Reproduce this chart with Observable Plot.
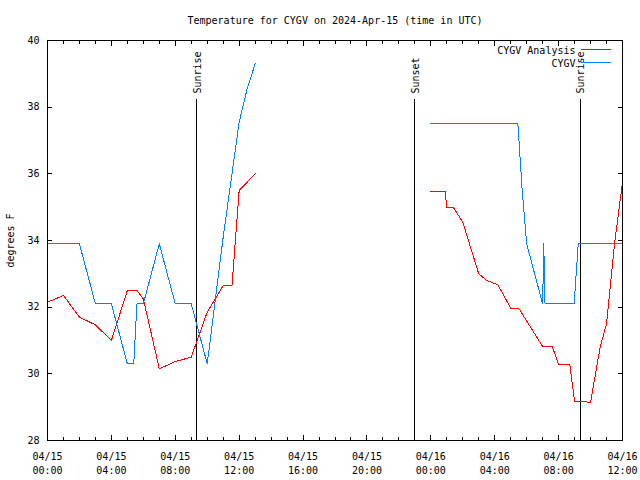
<!DOCTYPE html>
<html><head><meta charset="utf-8">
<script src="https://cdn.jsdelivr.net/npm/d3@7"></script>
<script src="https://cdn.jsdelivr.net/npm/@observablehq/plot@0.6"></script>
<style>body{margin:0;background:#fff} #chart svg{shape-rendering:crispEdges}</style>
</head><body><div id="chart"></div>
<script>
const title = "Temperature for CYGV on 2024-Apr-15 (time in UTC)";
const yLabel = "degrees F";
const startTime = "2024-04-15T00:00Z";
const endTime = "2024-04-16T12:00Z";
const seriesNames = ["CYGV Analysis", "CYGV"];
const seriesColors = ["#ff0000", "#0080ff"];
const yTicks = [28, 30, 32, 34, 36, 38, 40];

// hours after 2024-04-15 00:00 UTC
const analysisHours1 = [0, 1, 2, 3, 4, 5, 5.6, 6, 7, 8, 9, 10, 11, 11.55, 12, 13];
const analysisTemps1 = [32.15, 32.35, 31.7, 31.47, 31.0, 32.5, 32.5, 32.25, 30.15, 30.37, 30.5, 31.85, 32.65, 32.65, 35.5, 36.0];
const analysisHours2 = [24, 24.9, 25, 25.4, 26, 27, 27.5, 28.2, 29, 29.5, 31, 31.6, 32, 32.7, 33, 34, 34.6, 35, 35.5, 36];
const analysisTemps2 = [35.46, 35.46, 35.0, 35.0, 34.55, 33.0, 32.8, 32.67, 31.97, 31.97, 30.82, 30.82, 30.28, 30.28, 29.17, 29.15, 30.8, 31.5, 33.9, 35.75];

const stationHours1 = [0, 2, 3, 4, 5, 5.4, 5.6, 6, 7, 8, 9, 10, 11, 12, 12.5, 13];
const stationTemps1 = [33.9, 33.9, 32.1, 32.1, 30.3, 30.3, 32.1, 32.1, 33.9, 32.1, 32.1, 30.3, 34.1, 37.55, 38.55, 39.3];
const stationHours2 = [24, 29.45, 29.72, 30, 31, 31.07, 31.15, 32.97, 33.23, 36];
const stationTemps2 = [37.5, 37.5, 35.5, 33.9, 32.1, 33.9, 32.1, 32.1, 33.9, 33.9];

const sunTimes = ["2024-04-15T09:21Z", "2024-04-15T23:00Z", "2024-04-16T09:21Z"];
const sunLabels = ["Sunrise", "Sunset", "Sunrise"];

const t0 = new Date(startTime), t1 = new Date(endTime);
function rows(hours, temps, series, seg) {
  return hours.map((h, i) => ({time: new Date(+t0 + h * 3600e3), temp: temps[i], series, seg}));
}
const data = [
  ...rows(analysisHours1, analysisTemps1, seriesNames[0], "a1"),
  ...rows(analysisHours2, analysisTemps2, seriesNames[0], "a2"),
  ...rows(stationHours1, stationTemps1, seriesNames[1], "s1"),
  ...rows(stationHours2, stationTemps2, seriesNames[1], "s2")
];
const majorTicks = d3.utcHour.every(4).range(t0, new Date(+t1 + 1));
const minorTicks = d3.utcHour.every(1).range(t0, new Date(+t1 + 1));
const fmt = d3.utcFormat("%m/%d\n%H:%M");
const sunDates = sunTimes.map(d => new Date(d));
const lineShape = {draw(context, l) { context.moveTo(0, 0); context.lineTo(0, -l); }};
const blank = () => "";

const chart = Plot.plot({
  width: 640, height: 480,
  marginLeft: 47, marginRight: 18, marginTop: 40, marginBottom: 40,
  style: {fontFamily: "DejaVu Sans Mono", fontSize: "10px", background: "#fff", color: "#000"},
  x: {type: "utc", domain: [t0, t1], label: null},
  y: {domain: [28, 40], label: null},
  color: {domain: seriesNames, range: seriesColors},
  marks: [
    Plot.axisX(minorTicks, {anchor: "bottom", tickSize: -3, tickFormat: blank, label: null}),
    Plot.axisX(minorTicks, {anchor: "top", tickSize: -3, tickFormat: blank, label: null}),
    Plot.axisX(majorTicks, {anchor: "bottom", tickSize: -5, tickFormat: blank, label: null}),
    Plot.axisX(majorTicks, {anchor: "top", tickSize: -5, tickFormat: blank, label: null}),
    Plot.axisX(majorTicks, {anchor: "bottom", tickSize: 0, tickPadding: 10, tickFormat: fmt, lineHeight: 1.4, label: null}),
    Plot.axisY(yTicks, {anchor: "left", tickSize: -5, tickFormat: blank, label: null}),
    Plot.axisY(yTicks, {anchor: "right", tickSize: -5, tickFormat: blank, label: null}),
    Plot.axisY(yTicks, {anchor: "left", tickSize: 0, tickPadding: 8, label: null}),
    Plot.ruleX(sunDates, {insetTop: 59, stroke: "#000"}),
    Plot.text(sunDates, {x: d => d, text: (d, i) => sunLabels[i], frameAnchor: "top", dy: 53, dx: 1, rotate: -90, textAnchor: "start", lineAnchor: "middle", fill: "#000"}),
    Plot.line(data, {x: "time", y: "temp", z: "seg", stroke: "series", strokeWidth: 1}),
    Plot.text([seriesNames[0]], {frameAnchor: "top-right", dx: -47, dy: 10, textAnchor: "end", lineAnchor: "middle", text: d => d, fill: "#000"}),
    Plot.text([seriesNames[1]], {frameAnchor: "top-right", dx: -47, dy: 23, textAnchor: "end", lineAnchor: "middle", text: d => d, fill: "#000"}),
    Plot.vector([seriesNames[0]], {frameAnchor: "top-right", dx: -41, dy: 9, length: 29, rotate: 90, anchor: "start", shape: lineShape, stroke: seriesColors[0]}),
    Plot.vector([seriesNames[1]], {frameAnchor: "top-right", dx: -41, dy: 22, length: 29, rotate: 90, anchor: "start", shape: lineShape, stroke: seriesColors[1]}),
    Plot.text([yLabel], {frameAnchor: "left", dx: -37, rotate: -90, textAnchor: "middle", lineAnchor: "middle", text: d => d, fill: "#000"}),
    Plot.text([title], {frameAnchor: "top", dy: -20, lineAnchor: "middle", text: d => d, fill: "#000"}),
    Plot.frame({stroke: "#000"})
  ]
});
document.getElementById("chart").append(chart);
</script>
</body></html>
